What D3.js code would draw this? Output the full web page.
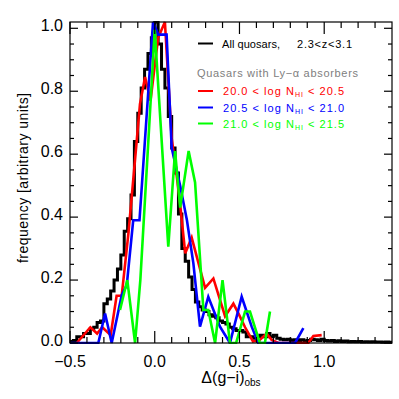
<!DOCTYPE html>
<html><head><meta charset="utf-8">
<script src="https://cdn.jsdelivr.net/npm/d3@7"></script>
<style>body{margin:0;background:#fff}svg{display:block}</style>
</head><body><svg id="c" width="399" height="399"></svg>
<script>
// ---- data ----
const blackX = [-0.50,-0.48,-0.46,-0.44,-0.42,-0.40,-0.38,-0.36,-0.34,-0.32,-0.30,-0.28,-0.26,-0.24,-0.22,-0.20,-0.18,-0.16,-0.14,-0.12,-0.10,-0.08,-0.06,-0.04,-0.02,0.00,0.02,0.04,0.06,0.08,0.10,0.12,0.14,0.16,0.18,0.20,0.22,0.24,0.26,0.28,0.30,0.32,0.34,0.36,0.38,0.40,0.42,0.44,0.46,0.48,0.50,0.52,0.54,0.56,0.58,0.60,0.62,0.64,0.66,0.68,0.70,0.72,0.74,0.76,0.78,0.80,0.82,0.84,0.86,0.88,0.90,0.92,0.94,0.96,0.98,1.00,1.02,1.04,1.06,1.08,1.10,1.12,1.14,1.16,1.18,1.20,1.22,1.24,1.26,1.28,1.30,1.32,1.34,1.36,1.38,1.40];
const blackY = [0.005,0.008,0.02,0.02,0.03,0.03,0.045,0.05,0.065,0.07,0.125,0.14,0.165,0.20,0.235,0.28,0.355,0.395,0.47,0.64,0.73,0.81,0.87,0.92,0.97,1.02,0.95,0.87,0.81,0.72,0.62,0.54,0.41,0.30,0.26,0.21,0.17,0.13,0.115,0.105,0.10,0.09,0.085,0.08,0.07,0.065,0.06,0.05,0.045,0.04,0.04,0.035,0.02,0.02,0.015,0.02,0.025,0.02,0.03,0.02,0.025,0.015,0.012,0.01,0.012,0.008,0.01,0.008,0.01,0.006,0.008,0.012,0.01,0.008,0.012,0.008,0.006,0.008,0.005,0.007,0.005,0.006,0.004,0.005,0.004,0.005,0.003,0.004,0.003,0.004,0.003,0.003,0.002,0.003,0.002,0.002];

const redX = [-0.46,-0.38,-0.34,-0.31,-0.26,-0.225,-0.195,-0.155,-0.12,-0.087,-0.057,-0.025,0.02,0.06,0.10,0.13,0.15,0.18,0.218,0.297,0.346,0.415,0.464,0.493,0.533,0.58,0.62,0.66,0.69,0.73,0.906,0.936,0.985];
const redY = [0.0,0.05,0.03,0.05,0.025,0.15,0.15,0.35,0.56,0.76,0.845,0.77,0.97,1.02,0.65,0.53,0.44,0.285,0.335,0.175,0.205,0.085,0.125,0.095,0.05,0.005,0.01,0.03,0.01,0.0,0.0,0.022,0.025];

const blueX = [-0.5,-0.333,-0.293,-0.254,-0.195,-0.165,-0.127,-0.09,-0.01,0.021,0.07,0.10,0.15,0.19,0.228,0.267,0.316,0.385,0.444,0.513,0.572,0.611,0.828,0.877];
const blueY = [0,0,0.094,0,0.152,0.184,0.39,0.39,1.02,0.98,0.98,0.62,0.5,0.39,0.253,0.052,0.147,0.052,0,0.147,0.052,0,0,0.047];

const greenX = [-0.205,-0.162,-0.116,-0.085,0.0,0.08,0.12,0.15,0.2,0.238,0.287,0.316,0.356,0.40,0.444,0.48,0.533,0.562,0.62,0.65,0.68];
const greenY = [0.105,0.2,0,0.2,0.995,0.306,0.61,0.43,0.61,0.51,0.105,0.105,0,0.2,0,0,0.1,0.1,0,0,0.1];

const xMajor = [-0.5,0.0,0.5,1.0];
const xMajorLabels = ["\u22120.5","0.0","0.5","1.0"];
const xMinor = [-0.4,-0.3,-0.2,-0.1,0.1,0.2,0.3,0.4,0.6,0.7,0.8,0.9,1.1,1.2,1.3];
const yMajor = [0.0,0.2,0.4,0.6,0.8,1.0];
const yMajorLabels = ["0.0","0.2","0.4","0.6","0.8","1.0"];
const yMinor = [0.05,0.1,0.15,0.25,0.3,0.35,0.45,0.5,0.55,0.65,0.7,0.75,0.85,0.9,0.95];

// ---- layout ----
const L=70,R=392,T=22,B=343;
const x = d3.scaleLinear().domain([-0.5,1.4]).range([L,R]);
const y = d3.scaleLinear().domain([0,1.02]).range([B,T]);
const svg = d3.select("#c");
const font = "'Liberation Sans', Arial, sans-serif";

svg.append("defs").append("clipPath").attr("id","clip")
  .append("rect").attr("x",L).attr("y",T-1).attr("width",R-L).attr("height",B-T+2);

const g = svg.append("g").attr("clip-path","url(#clip)");

const step = d3.line().x(d=>x(d[0])).y(d=>y(d[1])).curve(d3.curveStepAfter);
const blackPts = blackX.map((v,i)=>[v, blackY[Math.min(i,blackY.length-1)]]);
g.append("path").attr("d",step(blackPts)).attr("fill","none").attr("stroke","#000").attr("stroke-width",3);

const line = d3.line().x(d=>x(d[0])).y(d=>y(d[1]));
[[redX,redY,"#ff0000"],[blueX,blueY,"#0000ff"],[greenX,greenY,"#00ff00"]].forEach(([xs,ys,c])=>{
  g.append("path").attr("d",line(xs.map((v,i)=>[v,ys[i]]))).attr("fill","none")
   .attr("stroke",c).attr("stroke-width",2.6).attr("stroke-linejoin","miter");
});

// ---- frame & ticks ----
const ax = svg.append("g").attr("stroke","#000").attr("stroke-width",1.2);
ax.append("rect").attr("x",L).attr("y",T).attr("width",R-L).attr("height",B-T).attr("fill","none");
xMajor.forEach(v=>{
  ax.append("line").attr("x1",x(v)).attr("x2",x(v)).attr("y1",B).attr("y2",B-12);
  ax.append("line").attr("x1",x(v)).attr("x2",x(v)).attr("y1",T).attr("y2",T+12);
});
xMinor.forEach(v=>{
  ax.append("line").attr("x1",x(v)).attr("x2",x(v)).attr("y1",B).attr("y2",B-6);
  ax.append("line").attr("x1",x(v)).attr("x2",x(v)).attr("y1",T).attr("y2",T+6);
});
yMajor.forEach(v=>{
  ax.append("line").attr("x1",L).attr("x2",L+8).attr("y1",y(v)).attr("y2",y(v));
  ax.append("line").attr("x1",R).attr("x2",R-8).attr("y1",y(v)).attr("y2",y(v));
});
yMinor.forEach(v=>{
  ax.append("line").attr("x1",L).attr("x2",L+4).attr("y1",y(v)).attr("y2",y(v));
  ax.append("line").attr("x1",R).attr("x2",R-4).attr("y1",y(v)).attr("y2",y(v));
});

// tick labels
svg.append("g").selectAll("text").data(xMajor).join("text")
  .attr("x",d=>x(d)).attr("y",367).attr("text-anchor","middle")
  .attr("font-family",font).attr("font-size",16).text((d,i)=>xMajorLabels[i]);
svg.append("g").selectAll("text").data(yMajor).join("text")
  .attr("x",63).attr("y",d=>y(d)+2.5).attr("text-anchor","end")
  .attr("font-family",font).attr("font-size",16).text((d,i)=>yMajorLabels[i]);

// axis titles
const xt = svg.append("text").attr("x",231).attr("y",383).attr("text-anchor","middle")
  .attr("font-family",font).attr("font-size",16);
xt.append("tspan").text("\u0394(g\u2212i)");
xt.append("tspan").attr("font-size",10).attr("dy",3).text("obs");

svg.append("text").attr("transform","translate(28,178) rotate(-90)").attr("text-anchor","middle")
  .attr("font-family",font).attr("font-size",14).attr("textLength",170).attr("lengthAdjust","spacing")
  .text("frequency [arbitrary units]");

// ---- legend ----
const lg = svg.append("g").attr("font-family",font).attr("font-size",11);
lg.append("line").attr("x1",198).attr("x2",213).attr("y1",43.5).attr("y2",43.5).attr("stroke","#000").attr("stroke-width",2);
lg.append("text").attr("x",222).attr("y",47.5).attr("textLength",58).attr("lengthAdjust","spacing").text("All quosars,");
lg.append("text").attr("x",297).attr("y",47.5).attr("textLength",55).attr("lengthAdjust","spacing").text("2.3<z<3.1");
lg.append("text").attr("x",197).attr("y",77).attr("fill","#808080").attr("textLength",161).attr("lengthAdjust","spacing")
  .text("Quasars with Ly\u2212\u03b1 absorbers");
const entries = [["20.0","20.5","#ff0000",91],["20.5","21.0","#0000ff",107.5],["21.0","21.5","#00ff00",123.5]];
entries.forEach(([a,b,c,yy])=>{
  lg.append("line").attr("x1",198).attr("x2",213).attr("y1",yy).attr("y2",yy).attr("stroke",c).attr("stroke-width",2);
  const t = lg.append("text").attr("x",223).attr("y",yy+4).attr("fill",c)
    .attr("textLength",121).attr("lengthAdjust","spacing");
  t.append("tspan").text(a+" < log N");
  t.append("tspan").attr("font-size",7).attr("dy",2).text("HI");
  t.append("tspan").attr("dy",-2).text(" < "+b);
});
</script></body></html>
